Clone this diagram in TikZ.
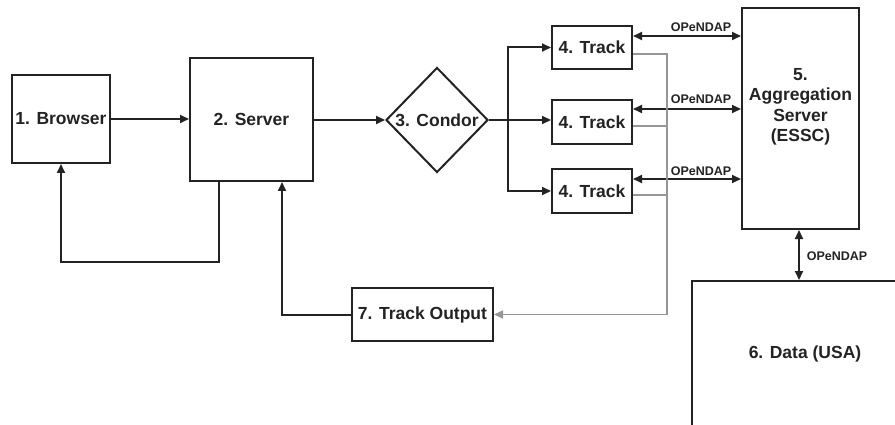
\documentclass[tikz,border=0pt]{standalone}
\usepackage{fontspec}
\setmainfont{Liberation Sans}
\usetikzlibrary{arrows.meta,shapes.geometric,calc}
\definecolor{ink}{RGB}{35,35,35}
\definecolor{grayline}{RGB}{150,150,150}
\begin{document}
\begin{tikzpicture}[x=1pt,y=-1pt,
  box/.style={draw=ink,line width=2pt,fill=white,inner sep=0pt,text=ink,
    font=\bfseries\fontsize{17.5}{20.5}\selectfont,align=center},
  lbl/.style={inner sep=0pt,text=ink,font=\bfseries\fontsize{12.5}{14}\selectfont},
  arr/.style={draw=ink,line width=2pt,-{Triangle[length=9pt,width=8pt]}},
  darr/.style={draw=ink,line width=2pt,{Triangle[length=9pt,width=8pt]}-{Triangle[length=9pt,width=8pt]}},
  garr/.style={draw=grayline,line width=1.6pt,-{Triangle[length=9pt,width=8pt]}},
  gline/.style={draw=grayline,line width=1.6pt}]
\useasboundingbox (0,0) rectangle (895,425);
\fill[white] (0,0) rectangle (895,425);

% nodes
\node[box,minimum width=98pt,minimum height=88pt] (browser) at (61,119) {1. Browser};
\node[box,minimum width=123pt,minimum height=123pt] (server) at (251.5,119.5) {2. Server};
\node[box,diamond,minimum width=102pt,minimum height=105pt] (condor) at (437,120) {3. Condor};
\node[box,minimum width=80pt,minimum height=43pt] (t1) at (592,47.5) {4. Track};
\node[box,minimum width=80pt,minimum height=44pt] (t2) at (592,122) {4. Track};
\node[box,minimum width=80pt,minimum height=44pt] (t3) at (592,191) {4. Track};
\node[box,minimum width=117pt,minimum height=221pt] (agg) at (800.5,118.5) {};
\node[box,draw=none,fill=none] (aggtext) at (800.5,107) {5.\\Aggregation\\Server\\(ESSC)};
\node[box,minimum width=226pt,minimum height=146pt] (data) at (805,354) {};
\node[box,draw=none,fill=none] (datatext) at (805,354) {6. Data (USA)};
\node[box,minimum width=141pt,minimum height=53pt] (out) at (422.5,314.5) {7. Track Output};

% connectors
\draw[arr] (browser.east) -- (browser.east -| server.west);
\draw[arr] ($(server.south west)+(30,0)$) |- ($(browser.south)+(0,98)$) -- (browser.south);
\draw[arr] (server.east |- condor.west) -- (condor.west);
\draw[arr] (out.west) -| ($(server.south)+(30.5,0)$);

\coordinate (br) at ($(condor.east)+(19,0)$);
\draw[arr] (condor.east) -- (br) |- (t1.west);
\draw[arr] (condor.east) -- (condor.east -| t2.west);
\draw[arr] (br) |- (t3.west);

% OPeNDAP links
\coordinate (o1) at ($(t1.east)+(0,-11.5)$);
\coordinate (o2) at ($(t2.east)+(0,-13)$);
\coordinate (o3) at ($(t3.east)+(0,-12)$);
\draw[darr] (o1) -- (o1 -| agg.west);
\draw[darr] (o2) -- (o2 -| agg.west);
\draw[darr] (o3) -- (o3 -| agg.west);
\node[lbl] (l1) at (701,27) {OPeNDAP};
\node[lbl] (l2) at (701,99) {OPeNDAP};
\node[lbl] (l3) at (701,171) {OPeNDAP};
\coordinate (av) at ($(agg.south)+(-1.5,0)$);
\draw[darr] (av) -- (av |- data.north);
\node[lbl] (l4) at (837,256) {OPeNDAP};

% gray track output lines
\coordinate (gx) at (667,314.5);
\coordinate (g1) at ($(t1.east)+(0,6.5)$);
\coordinate (g2) at ($(t2.east)+(0,4)$);
\coordinate (g3) at ($(t3.east)+(0,4)$);
\draw[gline] (g1) -| (gx);
\draw[gline] (g2) -- (g2 -| gx);
\draw[gline] (g3) -- (g3 -| gx);
\draw[garr] (gx) -- (out.east);
\end{tikzpicture}
\end{document}
